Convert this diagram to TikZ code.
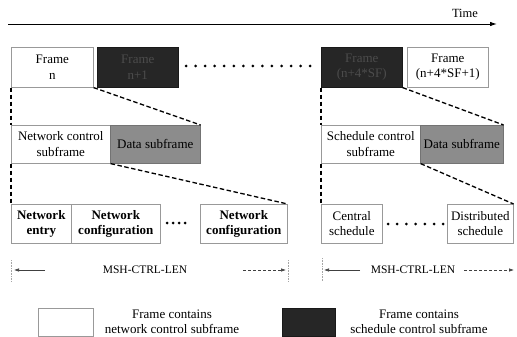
\documentclass[tikz,border=0pt]{standalone}
\usepackage{fontspec}
\setmainfont{Liberation Serif}
\usetikzlibrary{arrows.meta}
\newcommand\bodyfont{\fontsize{13}{15.5}\selectfont}
\begin{document}
\begin{tikzpicture}[x=1pt,y=-1pt,
  box/.style={draw=black!40, line width=0.6pt, anchor=north west, inner sep=0pt,
              align=center, font=\bodyfont, text=black},
  darkbox/.style={box, draw=black!90, fill=black!85, text=black!70},
  databox/.style={box, draw=black!55, fill=black!45},
  boldbox/.style={box, font=\bodyfont\bfseries},
  conn/.style={draw=black, line width=1.3pt, dash pattern=on 4.5pt off 2.5pt},
  dotmark/.style={fill=black},
  lenarrow/.style={draw=black!75, line width=0.6pt, -{Latex[length=5pt,width=3.5pt]}},
  lentick/.style={draw=black!35, line width=0.6pt, densely dotted},
  label/.style={font=\bodyfont, align=center, inner sep=0pt}
]
\useasboundingbox (0,0) rectangle (517,337);

% time axis
\coordinate (t0) at (8,24);
\coordinate (t1) at (497,24);
\draw[line width=0.9pt, -{Latex[length=7pt,width=4.5pt]}] (t0) -- (t1);
\node[label, font=\fontsize{12.5}{14}\selectfont] (time) at (465,13) {Time};

% frames
\node[box, minimum width=82pt, minimum height=40pt] (fn) at (11,47) {Frame\\n};
\node[darkbox, minimum width=81pt, minimum height=40pt] (f1) at (97,47) {Frame\\n+1};
\node[darkbox, minimum width=81pt, minimum height=40pt] (f2) at (321,47) {Frame\\(n+4*SF)};
\node[box, minimum width=81pt, minimum height=40pt] (f3) at (407,47) {Frame\\(n+4*SF+1)};
\foreach \i in {0,...,13} \fill[dotmark] (186+\i*9.55,66) circle (1.5pt);

% subframes
\node[box, minimum width=99pt, minimum height=38pt] (ncs) at (11,125) {Network control\\subframe};
\node[databox, minimum width=90pt, minimum height=38pt] (ds1) at (110,125) {Data subframe};
\node[box, minimum width=99pt, minimum height=38pt] (scs) at (321,125) {Schedule control\\subframe};
\node[databox, minimum width=83pt, minimum height=38pt] (ds2) at (420,125) {Data subframe};

% control message slots
\node[boldbox, minimum width=60pt, minimum height=39pt] (ne) at (11,204) {Network\\entry};
\node[boldbox, minimum width=89pt, minimum height=39pt] (nc1) at (71,204) {Network\\configuration};
\node[boldbox, minimum width=87pt, minimum height=39pt] (nc2) at (200,204) {Network\\configuration};
\foreach \i in {0,...,3} \fill[dotmark] (167+\i*6,223) circle (1.5pt);
\node[box, minimum width=61pt, minimum height=39pt] (cs) at (321,204) {Central\\schedule};
\node[box, minimum width=66pt, minimum height=39pt] (dsch) at (447,204) {Distributed\\schedule};
\foreach \i in {0,...,6} \fill[dotmark] (388+\i*9.2,224) circle (1.5pt);

% expansion lines
\draw[conn] (fn.south west) -- (ncs.north west);
\draw[conn] (fn.south east) -- (ds1.north east);
\draw[conn] (ncs.south west) -- (ne.north west);
\draw[conn] (ncs.south east) -- (nc2.north east);
\draw[conn] (f2.south west) -- (scs.north west);
\draw[conn] (f2.south east) -- (ds2.north east);
\draw[conn] (scs.south west) -- (cs.north west);
\draw[conn] (scs.south east) -- (dsch.north east);

% MSH-CTRL-LEN spans
\node[label, font=\fontsize{11.5}{14}\selectfont] (len1) at (145,270) {MSH-CTRL-LEN};
\coordinate (la0) at (45,270);  \coordinate (la1) at (14,270);
\coordinate (lb0) at (243,270); \coordinate (lb1) at (286,270);
\draw[lenarrow] (la0) -- (la1);
\draw[lenarrow, dash pattern=on 3pt off 2pt] (lb0) -- (lb1);
\draw[lentick] (11,260) -- (11,281);
\draw[lentick] (288,260) -- (288,281);

\node[label, font=\fontsize{11.5}{14}\selectfont] (len2) at (413,270) {MSH-CTRL-LEN};
\coordinate (ra0) at (360,270); \coordinate (ra1) at (324,270);
\coordinate (rb0) at (464,270); \coordinate (rb1) at (514,270);
\draw[lenarrow] (ra0) -- (ra1);
\draw[lenarrow, dash pattern=on 3pt off 2pt] (rb0) -- (rb1);
\draw[lentick] (322,258) -- (322,281);

% legend
\node[box, minimum width=55pt, minimum height=28pt] (lg1) at (38,308) {};
\node[label] (lt1) at (172,322) {Frame contains\\network control subframe};
\node[darkbox, minimum width=53pt, minimum height=28pt] (lg2) at (282,308) {};
\node[label] (lt2) at (419,322) {Frame contains\\schedule control subframe};
\end{tikzpicture}
\end{document}
